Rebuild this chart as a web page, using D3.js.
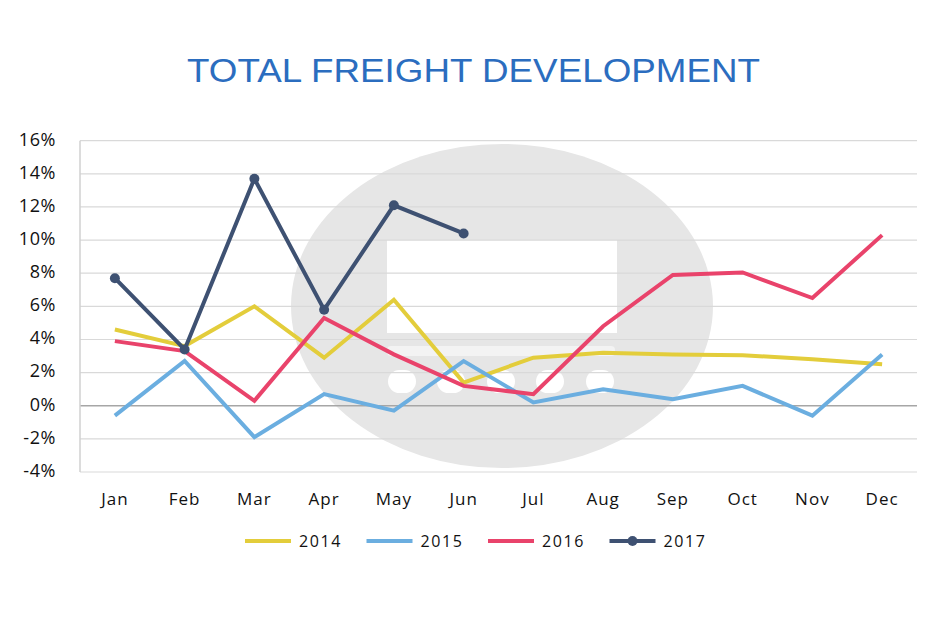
<!DOCTYPE html>
<html>
<head>
<meta charset="utf-8">
<script src="https://cdn.jsdelivr.net/npm/d3@7"></script>
<style>
  body { margin: 0; background: #fff; }
</style>
</head>
<body>
<div id="canvas"></div>
<script>
"use strict";

// Chart data
let months = ["Jan", "Feb", "Mar", "Apr", "May", "Jun", "Jul", "Aug", "Sep", "Oct", "Nov", "Dec"];
let years = ["2014", "2015", "2016", "2017"];
let values2014 = [4.6, 3.6, 6.0, 2.9, 6.4, 1.4, 2.9, 3.2, 3.1, 3.05, 2.8, 2.5];
let values2015 = [-0.6, 2.7, -1.9, 0.7, -0.3, 2.7, 0.2, 1.0, 0.4, 1.2, -0.6, 3.1];
let values2016 = [3.9, 3.3, 0.3, 5.3, 3.1, 1.2, 0.7, 4.8, 7.9, 8.05, 6.5, 10.3];
let values2017 = [7.7, 3.4, 13.7, 5.8, 12.1, 10.4];
let yTicks = [-4, -2, 0, 2, 4, 6, 8, 10, 12, 14, 16];

let seriesColors = ["#e3cd3b", "#6baee0", "#e9436b", "#3e5172"];
let seriesValues = [values2014, values2015, values2016, values2017];

// Canvas dimensions
let svgWidth = 950;
let svgHeight = 634;
let margin = { left: 80, right: 33, top: 140.7, bottom: 162 };

let svg = d3.select("#canvas")
    .append("svg")
    .attr("width", svgWidth)
    .attr("height", svgHeight);

// Scales
let xScale = d3.scalePoint()
    .domain(months)
    .range([margin.left, svgWidth - margin.right])
    .padding(0.5);

let yScale = d3.scaleLinear()
    .domain([-4, 16])
    .range([svgHeight - margin.bottom, margin.top]);

// Title
svg.append("text")
    .attr("x", 187)
    .attr("y", 82)
    .attr("fill", "#2b6dbf")
    .attr("textLength", 573)
    .attr("lengthAdjust", "spacingAndGlyphs")
    .style("font-family", "'Liberation Sans', Arial, sans-serif")
    .style("font-size", "33px")
    .text("TOTAL FREIGHT DEVELOPMENT");

// Watermark: grey disc with a truck cut out
let mark = svg.append("g");
mark.append("ellipse")
    .attr("cx", 502)
    .attr("cy", 306)
    .attr("rx", 211)
    .attr("ry", 162)
    .attr("fill", "#e6e6e6");

mark.append("rect")
    .attr("x", 387)
    .attr("y", 240)
    .attr("width", 230)
    .attr("height", 93)
    .attr("fill", "#fff");

mark.append("rect")
    .attr("x", 387)
    .attr("y", 346)
    .attr("width", 228)
    .attr("height", 10)
    .attr("rx", 4)
    .attr("fill", "#f3f3f3");

[402, 451, 501, 550, 600].forEach(cx => {
    mark.append("rect")
        .attr("x", cx - 14)
        .attr("y", 370)
        .attr("width", 28)
        .attr("height", 23)
        .attr("rx", 11.5)
        .attr("fill", "#fff");
});

// Gridlines
svg.selectAll("line.grid")
    .data(yTicks)
    .join("line")
    .attr("class", "grid")
    .attr("x1", margin.left)
    .attr("x2", svgWidth - margin.right)
    .attr("y1", d => yScale(d))
    .attr("y2", d => yScale(d))
    .attr("stroke", d => d === 0 ? "#a6a6a6" : "#d9d9d9")
    .attr("stroke-width", d => d === 0 ? 1.5 : 1.2);

// Left axis line
svg.append("line")
    .attr("x1", margin.left)
    .attr("x2", margin.left)
    .attr("y1", yScale(16))
    .attr("y2", yScale(-4))
    .attr("stroke", "#d0d0d0")
    .attr("stroke-width", 1.5);

// Y tick labels
svg.selectAll("text.ytick")
    .data(yTicks)
    .join("text")
    .attr("class", "ytick")
    .attr("x", 56)
    .attr("y", d => yScale(d))
    .attr("text-anchor", "end")
    .attr("dominant-baseline", "middle")
    .attr("fill", "#111")
    .style("font-family", "'Open Sans', sans-serif")
    .style("font-size", "18px")
    .style("letter-spacing", "0.6px")
    .text(d => d + "%");

// X tick labels
svg.selectAll("text.xtick")
    .data(months)
    .join("text")
    .attr("class", "xtick")
    .attr("x", d => xScale(d))
    .attr("y", 505)
    .attr("text-anchor", "middle")
    .attr("fill", "#111")
    .style("font-family", "'Open Sans', sans-serif")
    .style("font-size", "17px")
    .style("letter-spacing", "1px")
    .text(d => d);

// Lines
let line = d3.line()
    .x((d, i) => xScale(months[i]))
    .y(d => yScale(d));

seriesValues.forEach((vals, s) => {
    svg.append("path")
        .datum(vals)
        .attr("fill", "none")
        .attr("stroke", seriesColors[s])
        .attr("stroke-width", 4)
        .attr("d", line);
});

// 2017 markers
svg.selectAll("circle.dot")
    .data(values2017)
    .join("circle")
    .attr("class", "dot")
    .attr("cx", (d, i) => xScale(months[i]))
    .attr("cy", d => yScale(d))
    .attr("r", 5)
    .attr("fill", seriesColors[3]);

// Legend
let legendX = 245;
let legendStep = 121.5;
let legendY = 541;

years.forEach((yr, i) => {
    let x = legendX + i * legendStep;
    svg.append("line")
        .attr("x1", x)
        .attr("x2", x + 46)
        .attr("y1", legendY)
        .attr("y2", legendY)
        .attr("stroke", seriesColors[i])
        .attr("stroke-width", 4);
    if (i === 3) {
        svg.append("circle")
            .attr("cx", x + 23)
            .attr("cy", legendY)
            .attr("r", 5)
            .attr("fill", seriesColors[i]);
    }
    svg.append("text")
        .attr("x", x + 54)
        .attr("y", legendY + 6)
        .attr("fill", "#111")
        .style("font-family", "'Open Sans', sans-serif")
        .style("font-size", "16px")
        .style("letter-spacing", "1.6px")
        .text(yr);
});
</script>
</body>
</html>
